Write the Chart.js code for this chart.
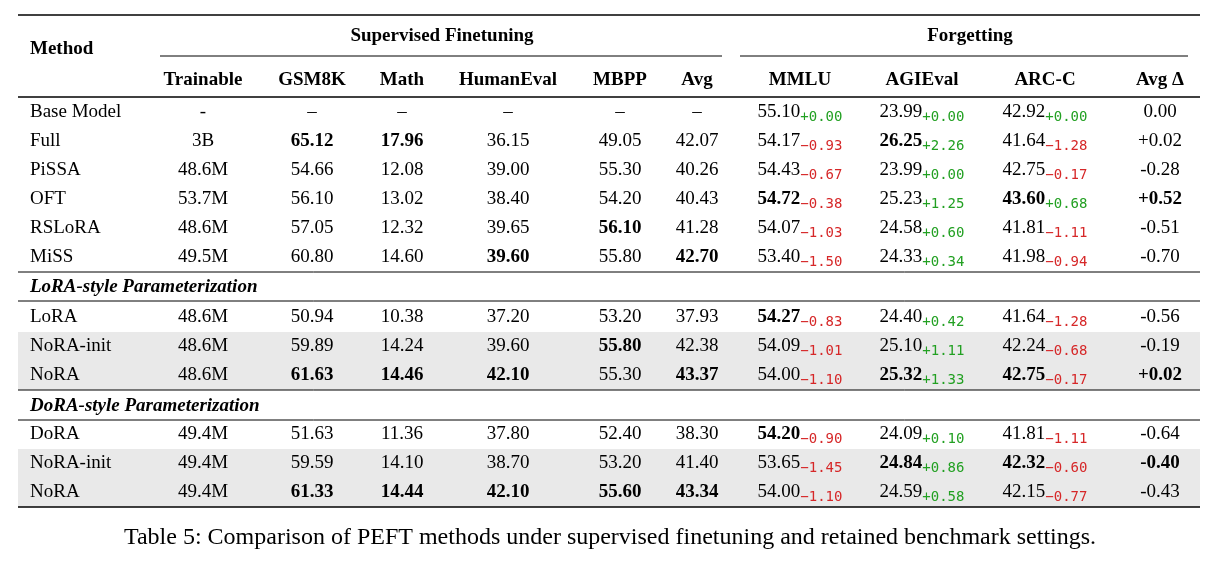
<!DOCTYPE html>
<html><head><meta charset="utf-8">
<script src="https://cdn.jsdelivr.net/npm/chart.js@4"></script>
<style>html,body{margin:0;padding:0;background:#fff}</style>
</head><body>
<canvas id="c" width="1219" height="568"></canvas>
<script>
const methods=["Base Model","Full","PiSSA","OFT","RSLoRA","MiSS","LoRA","NoRA-init","NoRA","DoRA","NoRA-init","NoRA"];
const trainable=["-","3B","48.6M","53.7M","48.6M","49.5M","48.6M","48.6M","48.6M","49.4M","49.4M","49.4M"];
const gsm8k=[null,65.12,54.66,56.10,57.05,60.80,50.94,59.89,61.63,51.63,59.59,61.33];
const math=[null,17.96,12.08,13.02,12.32,14.60,10.38,14.24,14.46,11.36,14.10,14.44];
const humaneval=[null,36.15,39.00,38.40,39.65,39.60,37.20,39.60,42.10,37.80,38.70,42.10];
const mbpp=[null,49.05,55.30,54.20,56.10,55.80,53.20,55.80,55.30,52.40,53.20,55.60];
const avg=[null,42.07,40.26,40.43,41.28,42.70,37.93,42.38,43.37,38.30,41.40,43.34];
const mmlu=[55.10,54.17,54.43,54.72,54.07,53.40,54.27,54.09,54.00,54.20,53.65,54.00];
const mmluD=[0.00,-0.93,-0.67,-0.38,-1.03,-1.50,-0.83,-1.01,-1.10,-0.90,-1.45,-1.10];
const agieval=[23.99,26.25,23.99,25.23,24.58,24.33,24.40,25.10,25.32,24.09,24.84,24.59];
const agiD=[0.00,2.26,0.00,1.25,0.60,0.34,0.42,1.11,1.33,0.10,0.86,0.58];
const arcc=[42.92,41.64,42.75,43.60,41.81,41.98,41.64,42.24,42.75,41.81,42.32,42.15];
const arcD=[0.00,-1.28,-0.17,0.68,-1.11,-0.94,-1.28,-0.68,-0.17,-1.11,-0.60,-0.77];
const avgDelta=["0.00","+0.02","-0.28","+0.52","-0.51","-0.70","-0.56","-0.19","+0.02","-0.64","-0.40","-0.43"];
const bold=[[],["gsm","math","agi"],[],["mmlu","arc","ad"],["mbpp"],["he","avg"],["mmlu"],["mbpp"],["gsm","math","he","avg","agi","arc","ad"],["mmlu"],["agi","arc","ad"],["gsm","math","he","mbpp","avg"]];
const sections=["LoRA-style Parameterization","DoRA-style Parameterization"];
const headers=["Trainable","GSM8K","Math","HumanEval","MBPP","Avg","MMLU","AGIEval","ARC-C","Avg Δ"];
const caption="Table 5: Comparison of PEFT methods under supervised finetuning and retained benchmark settings.";

// layout (pixel positions in scale units)
const colX=[203,312,402,508,620,697,800,922,1045,1160];
const rowY=[112,141,170,199,228,257,317,346,375,434,463,492];
const secY=[287,406];
const F="Liberation Serif";

const tablePlugin={id:'tbl',afterDraw(chart){
  const c=chart.ctx,xs=chart.scales.x,ys=chart.scales.y;
  const X=v=>xs.getPixelForValue(v),Y=v=>ys.getPixelForValue(v);
  c.save();
  // shading
  c.fillStyle="#e9e9e9";
  [[332,390],[449,507]].forEach(([a,b])=>c.fillRect(X(18),Y(a),X(1200)-X(18),Y(b)-Y(a)));
  // lines
  const line=(x1,x2,y,w)=>{c.strokeStyle="#000";c.lineWidth=w;c.beginPath();c.moveTo(X(x1),Y(y));c.lineTo(X(x2),Y(y));c.stroke();};
  line(18,1200,15,1.6);line(160,722,56,1);line(740,1188,56,1);line(18,1200,97,1.6);
  line(18,1200,272,1);line(18,1200,301,1);line(18,1200,390,1);line(18,1200,420,1);line(18,1200,507,1.6);
  c.fillStyle="#000";c.textBaseline="middle";
  c.font=`bold 19px "${F}"`;c.textAlign="center";
  c.fillText("Supervised Finetuning",X(442),Y(36));c.fillText("Forgetting",X(970),Y(36));
  c.textAlign="left";c.fillText("Method",X(30),Y(49));
  c.textAlign="center";
  headers.forEach((h,i)=>c.fillText(h,X(colX[i]),Y(80)));
  c.font=`bold italic 19px "${F}"`;c.textAlign="left";
  sections.forEach((s,i)=>c.fillText(s,X(30),Y(secY[i])));
  const fmtD=d=>(d<0?"\u2212":"+")+Math.abs(d).toFixed(2);
  rowY.forEach((ry,r)=>{
    const y=Y(ry),B=k=>bold[r].includes(k);
    c.textAlign="left";c.font=`19px "${F}"`;c.fillStyle="#000";
    c.fillText(methods[r],X(30),y);
    c.textAlign="center";
    const cell=(txt,i,b)=>{c.font=`${b?"bold ":""}19px "${F}"`;c.fillStyle="#000";c.textAlign="center";c.fillText(txt,X(colX[i]),y);};
    cell(trainable[r],0,false);
    [[gsm8k,"gsm"],[math,"math"],[humaneval,"he"],[mbpp,"mbpp"],[avg,"avg"]].forEach(([a,k],j)=>cell(a[r]==null?"\u2013":a[r].toFixed(2),j+1,B(k)));
    const dcell=(v,d,i,b)=>{
      c.font=`${b?"bold ":""}19px "${F}"`;const t=v.toFixed(2),w1=c.measureText(t).width;
      c.font=`14px "DejaVu Sans Mono"`;const ds=fmtD(d),w2=c.measureText(ds).width;
      const x0=X(colX[i])-(w1+w2)/2;
      c.textAlign="left";c.fillStyle="#000";c.font=`${b?"bold ":""}19px "${F}"`;c.fillText(t,x0,y);
      c.fillStyle=d<0?"#d62728":"#22a022";c.font=`14px "DejaVu Sans Mono"`;c.fillText(ds,x0+w1,y+5);
    };
    dcell(mmlu[r],mmluD[r],6,B("mmlu"));dcell(agieval[r],agiD[r],7,B("agi"));dcell(arcc[r],arcD[r],8,B("arc"));
    cell(avgDelta[r],9,B("ad"));
  });
  c.fillStyle="#000";c.font=`24px "${F}"`;c.textAlign="center";
  c.fillText(caption,X(610),Y(538));
  c.restore();
}};

new Chart(document.getElementById('c'),{
  type:'scatter',data:{datasets:[{data:[]}]},
  options:{responsive:false,animation:false,devicePixelRatio:1,
    layout:{padding:0},
    plugins:{legend:{display:false},tooltip:{enabled:false}},
    scales:{x:{type:'linear',min:0,max:1219,display:false},y:{type:'linear',min:0,max:568,reverse:true,display:false}}},
  plugins:[tablePlugin]
});
</script>
</body></html>
